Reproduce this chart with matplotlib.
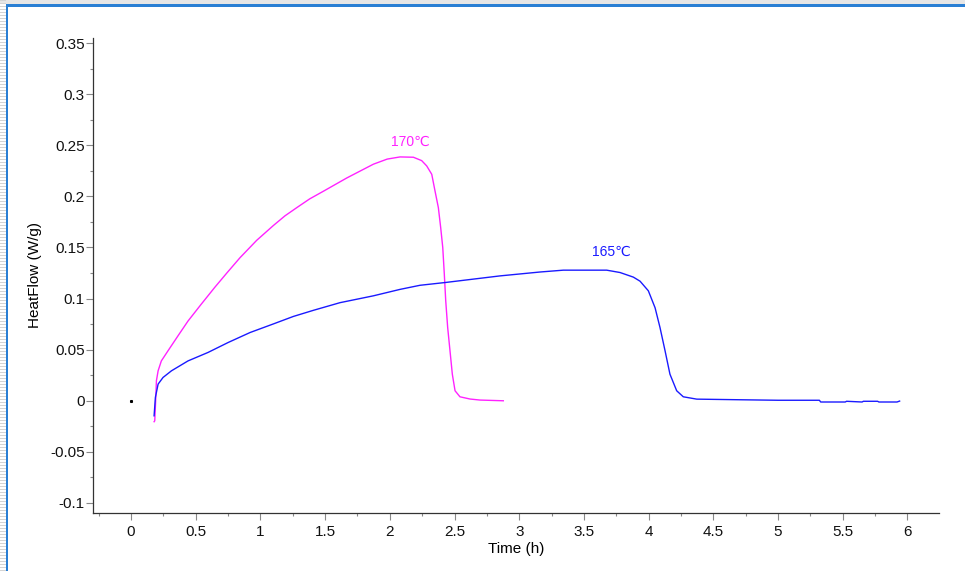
import matplotlib
matplotlib.use('Agg')
import matplotlib.pyplot as plt
from matplotlib.patches import Rectangle
from matplotlib.ticker import MultipleLocator, FuncFormatter
import numpy as np

plt.rcParams['font.family'] = ['Liberation Sans', 'DejaVu Sans']

# 170 C run
t_170 = [0.178, 0.183, 0.190, 0.196, 0.209, 0.234, 0.286, 0.363, 0.440, 0.543, 0.647,
         0.740, 0.842, 0.971, 1.100, 1.190, 1.281, 1.380, 1.486, 1.667, 1.873, 1.980,
         2.079, 2.182, 2.246, 2.285, 2.324, 2.349, 2.375, 2.393, 2.409, 2.421, 2.432,
         2.447, 2.465, 2.483, 2.504, 2.542, 2.620, 2.697, 2.877]
hf_170 = [-0.0205, -0.0196, 0.000, 0.0196, 0.0293, 0.039, 0.049, 0.0636, 0.078, 0.0946, 0.111,
          0.125, 0.140, 0.157, 0.1715, 0.181, 0.189, 0.1975, 0.205, 0.218, 0.2315, 0.2365,
          0.2386, 0.2383, 0.235, 0.2298, 0.2216, 0.2054, 0.189, 0.1695, 0.150, 0.124, 0.0978,
          0.0717, 0.0489, 0.026, 0.0098, 0.0039, 0.0017, 0.0007, 0.0]

# 165 C run
t_165 = [0.178, 0.188, 0.209, 0.247, 0.312, 0.440, 0.595, 0.750, 0.920, 1.100, 1.254,
         1.409, 1.615, 1.873, 2.079, 2.233, 2.427, 2.852, 3.161, 3.341, 3.676, 3.779,
         3.882, 3.934, 3.998, 4.050, 4.088, 4.127, 4.165, 4.217, 4.268, 4.372, 4.706,
         5.000, 5.320, 5.330, 5.520, 5.530, 5.650, 5.660, 5.770, 5.780, 5.920, 5.940]
hf_165 = [-0.0147, 0.0033, 0.0163, 0.0228, 0.0293, 0.039, 0.0473, 0.057, 0.0668, 0.0752, 0.0825,
          0.0885, 0.096, 0.1027, 0.109, 0.113, 0.1157, 0.1222, 0.126, 0.1278, 0.1278, 0.1255,
          0.121, 0.117, 0.1076, 0.091, 0.0717, 0.049, 0.026, 0.0098, 0.0039, 0.0016, 0.001,
          0.0005, 0.0005, -0.0012, -0.0012, -0.0005, -0.0012, -0.0005, -0.0005, -0.0012,
          -0.0012, -0.0003]

labels = ['170\u2103', '165\u2103']
label_pos = [(2.16, 0.253), (3.71, 0.146)]
colors = ['#ff22ff', '#1a1aff']

fig = plt.figure(figsize=(9.65, 5.71), dpi=100, facecolor='white')
ax = fig.add_axes([0.0964, 0.1016, 0.973 - 0.0964, 0.9335 - 0.1016])

ax.plot(t_170, hf_170, color=colors[0], lw=1.0)
ax.plot(t_165, hf_165, color=colors[1], lw=1.0)
ax.plot([0], [0], marker='s', ms=1.2, color='black', ls='none')

for lab, (x, y), c in zip(labels, label_pos, colors):
    ax.text(x, y, lab, color=c, fontsize=10, ha='center', va='center')

ax.set_xlim(-0.294, 6.244)
ax.set_ylim(-0.1098, 0.355)
ax.xaxis.set_major_locator(MultipleLocator(0.5))
ax.xaxis.set_minor_locator(MultipleLocator(0.25))
ax.yaxis.set_major_locator(MultipleLocator(0.05))
ax.yaxis.set_minor_locator(MultipleLocator(0.025))

fmt = FuncFormatter(lambda v, p: '0' if abs(v) < 1e-9 else ('%g' % round(v, 3)))
ax.xaxis.set_major_formatter(fmt)
ax.yaxis.set_major_formatter(fmt)

for s in ['top', 'right']:
    ax.spines[s].set_visible(False)
for s in ['left', 'bottom']:
    ax.spines[s].set_color('#333333')
    ax.spines[s].set_linewidth(0.9)
ax.tick_params(which='major', direction='out', length=5, width=0.8, color='#888888',
               labelsize=11, labelcolor='#111111', pad=1)
ax.tick_params(axis='x', which='major', pad=4)
ax.tick_params(which='minor', direction='out', length=2.5, width=0.8, color='#888888')

ax.set_xlabel('Time (h)', fontsize=11, labelpad=2)
ax.set_ylabel('HeatFlow (W/g)', fontsize=11, labelpad=6)

# window frame
W, H = 965.0, 571.0
fig.add_artist(Rectangle((0, 1 - 4 / H), 1, 4 / H, transform=fig.transFigure,
                         facecolor='#e6e6e6', edgecolor='none'))
for yy in np.arange(0, H, 3):
    fig.add_artist(Rectangle((0, yy / H), 6 / W, 1.2 / H, transform=fig.transFigure,
                             facecolor='#d4d4d4', edgecolor='none'))
fig.add_artist(Rectangle((6 / W, 0), 2 / W, 1 - 4 / H, transform=fig.transFigure,
                         facecolor='#2a7fd4', edgecolor='none'))
fig.add_artist(Rectangle((6 / W, 1 - 7 / H), 1 - 6 / W, 2.5 / H, transform=fig.transFigure,
                         facecolor='#2a7fd4', edgecolor='none'))

fig.savefig('out.png', dpi=100, facecolor='white')
